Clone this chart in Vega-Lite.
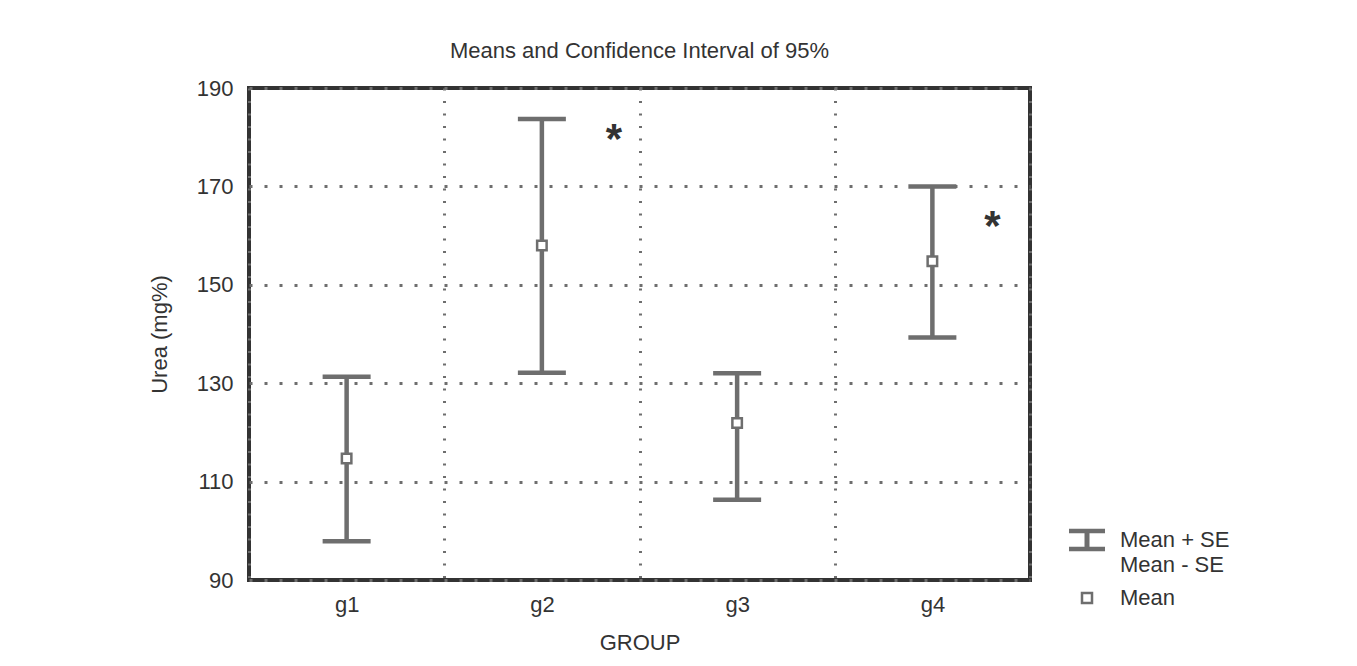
{
  "$schema": "https://vega.github.io/schema/vega-lite/v6.json",
  "autosize": {"type": "none"},
  "padding": {"left": 249, "top": 88, "right": 327, "bottom": 86},
  "width": 781,
  "height": 492,
  "background": "white",
  "config": {
    "font": "Liberation Sans",
    "view": {"stroke": "#333333", "strokeWidth": 4}
  },
  "title": {
    "text": "Means and Confidence Interval of 95%",
    "fontSize": 22,
    "fontWeight": "normal",
    "color": "#333333",
    "font": "Liberation Sans",
    "frame": "group",
    "baseline": "bottom",
    "offset": -8
  },
  "data": {
    "values": [
      {"group": "g1", "mean": 114.7, "lo": 97.9, "hi": 131.3, "star": null},
      {"group": "g2", "mean": 158.0, "lo": 132.1, "hi": 183.7, "star": 180.9},
      {"group": "g3", "mean": 121.9, "lo": 106.3, "hi": 132.0, "star": null},
      {"group": "g4", "mean": 154.8, "lo": 139.3, "hi": 170.0, "star": 163.2}
    ]
  },
  "encoding": {
    "x": {
      "field": "group",
      "type": "nominal",
      "scale": {"paddingInner": 0, "paddingOuter": 0},
      "axis": {
        "title": "GROUP",
        "titleFontSize": 22,
        "titleFontWeight": "normal",
        "titleColor": "#333333",
        "titlePadding": 17,
        "labelFontSize": 22,
        "labelColor": "#333333",
        "labelAngle": 0,
        "labelPadding": 14,
        "ticks": false,
        "domain": false,
        "grid": true,
        "tickBand": "extent",
        "gridColor": "#6e6e6e",
        "gridDash": [2, 10.5],
        "gridWidth": 3
      }
    }
  },
  "layer": [
    {
      "mark": {"type": "rule", "strokeWidth": 4.5},
      "encoding": {
        "y": {
          "field": "lo",
          "type": "quantitative",
          "scale": {"domain": [90, 190], "nice": false, "zero": false},
          "axis": {
            "title": "Urea (mg%)",
            "titleFontSize": 22,
            "titleFontWeight": "normal",
            "titleColor": "#333333",
            "titlePadding": 25,
            "labelFontSize": 22,
            "labelColor": "#333333",
            "labelPadding": 16,
            "ticks": false,
            "domain": false,
            "grid": true,
            "values": [90, 110, 130, 150, 170, 190],
            "gridColor": "#6e6e6e",
            "gridDash": [3, 12],
            "gridWidth": 3
          }
        },
        "y2": {"field": "hi"},
        "color": {
          "datum": "Mean + SE",
          "scale": {"domain": ["Mean + SE"], "range": ["#6e6e6e"]},
          "legend": {
            "title": null,
            "orient": "none",
            "legendX": 827,
            "legendY": 441,
            "symbolType": "M-3.48,-2.08H3.48V-1.72H-3.48ZM-0.21,-1.72H0.21V1.72H-0.21ZM-3.48,1.72H3.48V2.08H-3.48Z",
            "symbolSize": 90,
            "symbolStrokeWidth": 3,
            "symbolStrokeColor": "#6e6e6e",
            "symbolFillColor": "#6e6e6e",
            "labelFontSize": 22,
            "labelColor": "#333333",
            "labelOffset": 22,
            "labelFont": "Liberation Sans"
          }
        }
      }
    },
    {
      "mark": {"type": "tick", "size": 48, "thickness": 4.5, "color": "#6e6e6e", "opacity": 1},
      "encoding": {"y": {"field": "hi", "type": "quantitative"}}
    },
    {
      "mark": {"type": "tick", "size": 48, "thickness": 4.5, "color": "#6e6e6e", "opacity": 1},
      "encoding": {"y": {"field": "lo", "type": "quantitative"}}
    },
    {
      "mark": {"type": "point", "shape": "square", "filled": true, "color": "white", "size": 90, "opacity": 1},
      "encoding": {"y": {"field": "mean", "type": "quantitative"}}
    },
    {
      "mark": {"type": "point", "filled": false, "color": "#6e6e6e", "strokeWidth": 2.5, "size": 90, "opacity": 1},
      "encoding": {
        "y": {"field": "mean", "type": "quantitative"},
        "shape": {
          "datum": "Mean",
          "scale": {"domain": ["Mean - SE", "Mean"], "range": ["M-1,-0.001L-1,0.001", "square"]},
          "legend": {
            "title": null,
            "orient": "none",
            "legendX": 827,
            "legendY": 466,
            "symbolSize": 100,
            "symbolStrokeWidth": 2.5,
            "symbolStrokeColor": "#6e6e6e",
            "symbolOpacity": 1,
            "labelFontSize": 22,
            "labelColor": "#333333",
            "labelOffset": 22,
            "labelFont": "Liberation Sans",
            "rowPadding": 11
          }
        }
      }
    },
    {
      "transform": [{"filter": "datum.group === 'g2'"}],
      "mark": {"type": "text", "text": "*", "fontSize": 42, "fontWeight": "bold", "color": "#333333", "baseline": "alphabetic", "dx": 72, "dy": 20},
      "encoding": {"y": {"field": "star", "type": "quantitative"}}
    },
    {
      "transform": [{"filter": "datum.group === 'g4'"}],
      "mark": {"type": "text", "text": "*", "fontSize": 42, "fontWeight": "bold", "color": "#333333", "baseline": "alphabetic", "dx": 60, "dy": 20},
      "encoding": {"y": {"field": "star", "type": "quantitative"}}
    }
  ]
}
